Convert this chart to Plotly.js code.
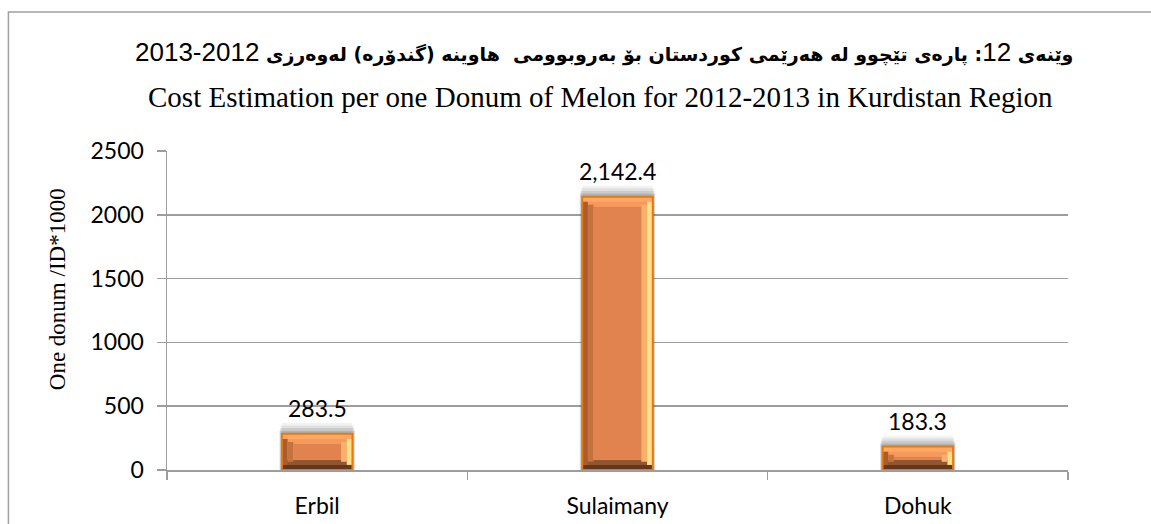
<!DOCTYPE html>
<html>
<head>
<meta charset="utf-8">
<script src="https://cdn.plot.ly/plotly-3.0.1.min.js"></script>
<style>html,body{margin:0;padding:0;background:#fff;}#chart{width:1151px;height:524px;}</style>
</head>
<body>
<div id="chart"></div>
<script>
// ---- data ----
const categories = ["Erbil", "Sulaimany", "Dohuk"];
const costValues = [283.5, 2142.4, 183.3];
const yTickValues = [0, 500, 1000, 1500, 2000, 2500];

const titleKu1 = "وێنەی ";
const titleNum1 = "12";
const titleKu2 = ": پارەی تێچوو لە هەرێمی کوردستان بۆ بەروبوومی  هاوینە (گندۆرە) لەوەرزی ";
const titleNum2 = "2012-2013";
const titleEn = "Cost Estimation per one Donum of Melon for 2012-2013 in Kurdistan Region";
const yTitle = "One donum /ID*1000";

// ---- styling ----
const labelFont = "Lato, 'Noto Sans', sans-serif";
const gridColor = "#9d9d9d";
const W = 0.235;      // bar width (category units)
const S = 0.019;      // half bevel width (category units)
const BV = 80;        // bevel height (data units)

function bar(off, wid, base, height, color, line) {
  return {
    type: "bar", x: categories, y: height, base: base,
    offset: off, width: wid,
    marker: { color: color, line: line || { width: 0 } },
    hoverinfo: "skip", showlegend: false, cliponaxis: false
  };
}
const zeros = costValues.map(() => 0);
const traces = [];
// soft shadow above each bar
[[85, 0.05, 0.0], [65, 0.07, 0.004], [45, 0.09, 0.006], [25, 0.12, 0.008]].forEach(([h, a, e]) => {
  traces.push(bar(-W / 2 - e, W + 2 * e, zeros, costValues.map(v => v + h), "rgba(0,0,0," + a + ")"));
});
// full bar = top bevel colour
traces.push(bar(-W / 2, W, zeros, costValues, "#FFA868"));
traces.push(bar(-W / 2, W, costValues.map(v => v - BV), costValues.map(() => BV / 2), "#F7985C"));
// bottom bevel
traces.push(bar(-W / 2, W, zeros, costValues.map(() => BV / 2), "#64371C"));
traces.push(bar(-W / 2, W, costValues.map(() => BV / 2), costValues.map(() => BV / 2), "#8F5634"));
// left bevel
traces.push(bar(-W / 2, S, costValues.map(() => BV / 2), costValues.map(v => v - BV), "#A95C2E"));
traces.push(bar(-W / 2 + S, S, costValues.map(() => BV * 0.8), costValues.map(v => v - 1.6 * BV), "#C6723F"));
// right bevel
traces.push(bar(W / 2 - S, S, costValues.map(() => BV / 2), costValues.map(v => v - BV), "#FFE08E"));
traces.push(bar(W / 2 - 2 * S, S, costValues.map(() => BV * 0.8), costValues.map(v => v - 1.6 * BV), "#F6B26A"));
// face
traces.push(bar(-W / 2 + 2 * S, W - 4 * S, costValues.map(() => BV), costValues.map(v => v - 2 * BV), "#E0834F"));
// outline
traces.push(bar(-W / 2, W, zeros, costValues, "rgba(0,0,0,0)", { color: "#E87A0A", width: 2 }));

const fmt = v => v.toLocaleString("en-US", { minimumFractionDigits: 1, maximumFractionDigits: 1 });
const annotations = categories.map((c, i) => ({
  x: c, y: costValues[i], xref: "x", yref: "y", yanchor: "bottom",
  yshift: 10, showarrow: false, text: fmt(costValues[i]),
  font: { family: labelFont, size: 23, color: "#000" }
}));

annotations.push({
  xref: "paper", yref: "paper", x: 0.485, y: 1.31, showarrow: false,
  xanchor: "center", yanchor: "middle",
  text: "<b>" + titleKu1 + "</b><span style=\"font-family:'Liberation Sans';font-size:26px;font-weight:normal\">" + titleNum1 +
        "</span><b>" + titleKu2 + "</b><span style=\"font-family:'Liberation Sans';font-size:26px;font-weight:normal\">" + titleNum2 + "</span>",
  font: { family: "'DejaVu Sans', 'Liberation Sans', sans-serif", size: 19, color: "#000" }
});
annotations.push({
  xref: "paper", yref: "paper", x: 0.481, y: 1.169, showarrow: false,
  xanchor: "center", yanchor: "middle", text: titleEn,
  font: { family: "'Liberation Serif', 'Times New Roman', serif", size: 29, color: "#000" }
});
annotations.push({
  xref: "paper", yref: "paper", x: -0.122, y: 0.567, showarrow: false,
  xanchor: "center", yanchor: "middle", textangle: -90, text: yTitle,
  font: { family: "'Liberation Serif', 'Times New Roman', serif", size: 23, color: "#000" }
});

const layout = {
  width: 1151, height: 524,
  margin: { l: 167, r: 83, t: 151, b: 54, pad: 0 },
  paper_bgcolor: "#fff", plot_bgcolor: "#fff",
  barmode: "overlay",
  showlegend: false,
  xaxis: {
    type: "category", range: [-0.5, 2.5],
    showgrid: false, showline: true, linecolor: gridColor, linewidth: 1.5,
    ticks: "outside", tickson: "boundaries", ticklen: 8, tickcolor: gridColor, tickwidth: 1.5,
    ticklabelstandoff: 15,
    tickfont: { family: labelFont, size: 23, color: "#000" }, fixedrange: true
  },
  yaxis: {
    range: [0, 2500], tickvals: yTickValues, ticktext: yTickValues.map(String),
    showgrid: true, gridcolor: gridColor, gridwidth: 1.5,
    showline: true, linecolor: gridColor, linewidth: 1.5,
    ticks: "outside", ticklen: 9, tickcolor: gridColor, tickwidth: 1.5,
    ticklabelstandoff: 8, zeroline: false,
    tickfont: { family: labelFont, size: 23, color: "#000" }, fixedrange: true
  },
  shapes: [{
    type: "rect", xref: "paper", yref: "paper",
    x0: -0.176, x1: 1.2, y0: -0.45, y1: 1.436,
    line: { color: "#a0a0a0", width: 1.5 }, fillcolor: "rgba(0,0,0,0)", layer: "below"
  }],
  annotations: annotations
};

Plotly.newPlot("chart", traces, layout, { staticPlot: true, displayModeBar: false });
</script>
</body>
</html>
